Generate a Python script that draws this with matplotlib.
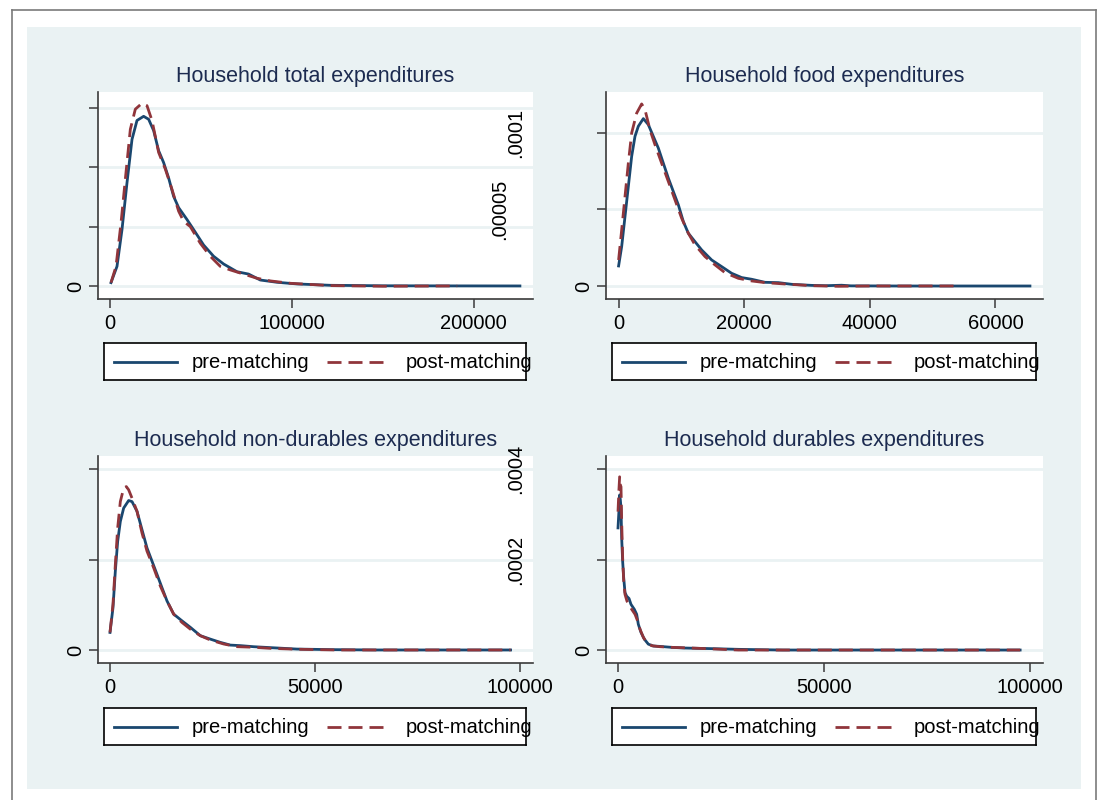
import matplotlib
matplotlib.use("Agg")
import matplotlib.pyplot as plt
from matplotlib.lines import Line2D
from matplotlib.patches import Rectangle
from matplotlib.transforms import blended_transform_factory

plt.rcParams['font.family'] = ['Liberation Sans', 'DejaVu Sans']

# ---------------- data ----------------
titles = ["Household total expenditures", "Household food expenditures",
          "Household non-durables expenditures", "Household durables expenditures"]
series_names = ["pre-matching", "post-matching"]

total_pre_x = [550, 3850, 6600, 9350, 12100, 14850, 18500, 21260, 24000, 26760, 29500, 32260,
               35000, 37760, 42340, 46000, 51500, 57000, 62500, 69840, 76250, 82670, 91830,
               102800, 121100, 150000, 190000, 225500]
total_pre_y = [0.056e-5, 0.33e-5, 0.95e-5, 1.74e-5, 2.47e-5, 2.79e-5, 2.86e-5, 2.81e-5, 2.62e-5,
               2.28e-5, 2.08e-5, 1.82e-5, 1.51e-5, 1.32e-5, 1.12e-5, 0.95e-5, 0.69e-5, 0.50e-5,
               0.37e-5, 0.24e-5, 0.20e-5, 0.10e-5, 0.062e-5, 0.034e-5, 0.011e-5, 0.003e-5,
               0.001e-5, 0.0]
total_post_x = [550, 3300, 6050, 8980, 11180, 13930, 17600, 20350, 23100, 26760, 30430, 34090,
                37760, 40500, 44170, 49670, 55170, 60670, 66170, 73500, 80830, 88170, 99170,
                121000, 150000, 191000]
total_post_y = [0.056e-5, 0.33e-5, 1.06e-5, 1.97e-5, 2.64e-5, 2.98e-5, 3.08e-5, 3.04e-5, 2.79e-5,
                2.25e-5, 1.97e-5, 1.63e-5, 1.26e-5, 1.09e-5, 1.0e-5, 0.72e-5, 0.50e-5, 0.33e-5,
                0.27e-5, 0.20e-5, 0.13e-5, 0.085e-5, 0.045e-5, 0.006e-5, -0.005e-5, 0.0]

food_pre_x = [0, 490, 1020, 1550, 2080, 2610, 3140, 3940, 4730, 5530, 6320, 7120, 7920, 8710,
              9510, 10310, 11100, 12160, 13220, 14820, 16400, 18000, 19600, 21190, 23310, 25440,
              27560, 30750, 33000, 35500, 37000, 45000, 65500]
food_pre_y = [1.31e-5, 2.58e-5, 4.54e-5, 6.5e-5, 8.47e-5, 9.78e-5, 10.44e-5, 10.94e-5, 10.55e-5,
              9.78e-5, 9.02e-5, 8.03e-5, 7.05e-5, 6.18e-5, 5.31e-5, 4.21e-5, 3.45e-5, 2.9e-5,
              2.36e-5, 1.70e-5, 1.27e-5, 0.83e-5, 0.55e-5, 0.44e-5, 0.24e-5, 0.22e-5, 0.11e-5,
              0.04e-5, 0.02e-5, 0.05e-5, 0.01e-5, 0.0, 0.0]
food_post_x = [0, 490, 1020, 1550, 2080, 2880, 3670, 4200, 5000, 5790, 6850, 7920, 8980, 10040,
               11100, 12160, 13760, 15350, 16940, 19070, 21190, 23310, 26500, 30750, 35000,
               40000, 54000]
food_post_y = [1.70e-5, 3.67e-5, 5.85e-5, 8.03e-5, 10.0e-5, 11.3e-5, 11.9e-5, 11.53e-5, 10.2e-5,
               9.24e-5, 8.03e-5, 6.83e-5, 5.63e-5, 4.43e-5, 3.45e-5, 2.69e-5, 1.92e-5, 1.38e-5,
               0.87e-5, 0.50e-5, 0.33e-5, 0.22e-5, 0.13e-5, 0.02e-5, -0.02e-5, 0.0, 0.0]

nondur_pre_x = [0, 730, 1300, 1870, 2520, 3330, 4550, 5370, 6590, 7800, 9020, 10240, 11460,
                12680, 13900, 15530, 17560, 19600, 22030, 24470, 26910, 29350, 31790, 35040,
                39100, 45600, 53700, 65000, 97700]
nondur_pre_y = [0.97e-5, 2.34e-5, 4.36e-5, 6.0e-5, 7.1e-5, 7.84e-5, 8.26e-5, 8.2e-5, 7.66e-5,
                6.65e-5, 5.64e-5, 4.91e-5, 4.18e-5, 3.44e-5, 2.71e-5, 1.98e-5, 1.61e-5, 1.25e-5,
                0.79e-5, 0.60e-5, 0.42e-5, 0.27e-5, 0.24e-5, 0.18e-5, 0.13e-5, 0.05e-5, 0.02e-5,
                0.0, 0.0]
nondur_post_x = [0, 730, 1300, 1870, 2520, 3330, 3980, 4550, 5370, 6590, 7800, 9020, 10650,
                 12280, 13900, 15530, 17560, 19600, 22030, 24470, 27720, 30980, 35040, 39100,
                 45600, 55000, 97700]
nondur_post_y = [0.97e-5, 2.53e-5, 4.73e-5, 6.74e-5, 8.2e-5, 8.94e-5, 9.03e-5, 8.85e-5, 8.39e-5,
                 7.66e-5, 6.47e-5, 5.46e-5, 4.54e-5, 3.53e-5, 2.71e-5, 1.98e-5, 1.52e-5, 1.15e-5,
                 0.79e-5, 0.55e-5, 0.33e-5, 0.18e-5, 0.15e-5, 0.09e-5, 0.04e-5, 0.0, 0.0]

dur_pre_x = [0, 240, 400, 570, 730, 890, 1130, 1380, 1700, 2100, 2670, 3150, 3960, 4530, 4930,
             5580, 6390, 7360, 8580, 10190, 13020, 16260, 19500, 23540, 29200, 40000, 97600]
dur_pre_y = [2.70e-4, 3.10e-4, 3.43e-4, 3.32e-4, 3.14e-4, 2.48e-4, 1.96e-4, 1.60e-4, 1.27e-4,
             1.19e-4, 1.14e-4, 1.01e-4, 0.90e-4, 0.79e-4, 0.57e-4, 0.39e-4, 0.24e-4, 0.13e-4,
             0.088e-4, 0.08e-4, 0.059e-4, 0.044e-4, 0.037e-4, 0.029e-4, 0.015e-4, 0.0, 0.0]
dur_post_x = [0, 240, 400, 570, 730, 890, 1130, 1380, 1700, 2180, 2670, 3320, 4130, 4770, 5340,
              6150, 6960, 8170, 10190, 13020, 17880, 23540, 29200, 40000, 97600]
dur_post_y = [3.06e-4, 3.57e-4, 3.83e-4, 3.65e-4, 3.61e-4, 2.84e-4, 2.04e-4, 1.52e-4, 1.23e-4,
              1.08e-4, 1.01e-4, 0.90e-4, 0.79e-4, 0.64e-4, 0.46e-4, 0.28e-4, 0.17e-4, 0.095e-4,
              0.073e-4, 0.059e-4, 0.044e-4, 0.022e-4, 0.0, 0.0, 0.0]

x_ticks = [[0, 100000, 200000], [0, 20000, 40000, 60000], [0, 50000, 100000], [0, 50000, 100000]]
y_ticks = [[0, 1e-5, 2e-5, 3e-5], [0, 5e-5, 1e-4], [0, 5e-5, 1e-4], [0, 2e-4, 4e-4]]
# labels of the right-hand panels that Stata drew next to the left-hand panels
stray_labels = [[".0001", ".00005"], [".0004", ".0002"]]
stray_values = [[1e-4, 5e-5], [4e-4, 2e-4]]

# ---------------- style ----------------
W, H = 1098, 800
NAVY = "#1a476f"
MAROON = "#90353b"
BG = "#eaf2f3"
GRID = "#eaf2f3"
TITLE_C = "#1c2b50"
SPINE = "#3a3a3a"
FS = 14.5

fig = plt.figure(figsize=(W / 100, H / 100), dpi=100)
fig.patch.set_facecolor("white")

def fx(px):
    return px / W

def fy(py):
    return 1 - py / H

# outer frame and background
fig.add_artist(Rectangle((fx(27), fy(789)), fx(1081) - fx(27), fy(27) - fy(789),
                         transform=fig.transFigure, facecolor=BG, edgecolor="none", zorder=0))
for xs, ys in [([11.5, 11.5], [9.5, 805]), ([11.5, 1096], [9.5, 9.5]), ([1096, 1096], [9.5, 805])]:
    fig.add_artist(Line2D([fx(v) for v in xs], [fy(v) for v in ys], transform=fig.transFigure,
                          color="#7a7a7a", lw=1.2, zorder=1))

# axes boxes in pixels: left, top, right, bottom
boxes = [(98, 92, 533, 299), (606, 92, 1043, 299), (98, 456, 533, 663), (606, 456, 1043, 663)]
xlims = [(-6600, 232700), (-2006, 67580), (-2927, 103170), (-2913, 103150)]
ylims = [(-2.2e-6, 3.27e-5), (-8.5e-6, 1.268e-4), (-7.2e-6, 1.072e-4), (-2.87e-5, 4.29e-4)]
legend_boxes = [(104, 343, 526, 380), (612, 343, 1036, 380), (104, 708, 526, 745), (612, 708, 1036, 745)]

data = [(total_pre_x, total_pre_y, total_post_x, total_post_y),
        (food_pre_x, food_pre_y, food_post_x, food_post_y),
        (nondur_pre_x, nondur_pre_y, nondur_post_x, nondur_post_y),
        (dur_pre_x, dur_pre_y, dur_post_x, dur_post_y)]

LW = 2.0
lw_px = LW * 100 / 72
DASH = (14 / lw_px, 7 / lw_px)

axes = []
for i in range(4):
    l, t, r, b = boxes[i]
    ax = fig.add_axes([fx(l), fy(b), fx(r) - fx(l), fy(t) - fy(b)])
    axes.append(ax)
    ax.set_facecolor("white")
    px, py, qx, qy = data[i]
    ax.plot(px, py, color=NAVY, lw=LW, solid_joinstyle="round", zorder=3)
    ax.plot(qx, qy, color=MAROON, lw=LW, dashes=DASH, dash_capstyle="butt", zorder=4)
    ax.set_xlim(*xlims[i])
    ax.set_ylim(*ylims[i])
    ax.set_xticks(x_ticks[i])
    ax.set_xticklabels([str(v) for v in x_ticks[i]])
    ax.set_yticks(y_ticks[i])
    ax.set_yticklabels(["0"] + [""] * (len(y_ticks[i]) - 1), rotation=90, va="center")
    ax.grid(axis="y", color=GRID, lw=2.0, zorder=0)
    ax.set_axisbelow(True)
    for s in ["top", "right"]:
        ax.spines[s].set_visible(False)
    for s in ["left", "bottom"]:
        ax.spines[s].set_color(SPINE)
        ax.spines[s].set_linewidth(1.2)
    ax.tick_params(axis="both", direction="out", length=6.5, width=1.1, color=SPINE,
                   labelsize=FS, labelcolor="black")
    ax.tick_params(axis="x", pad=4)
    ax.tick_params(axis="y", pad=3)
    ax.set_title(titles[i], color=TITLE_C, fontsize=15.5, pad=7)

# stray tick labels of the right-hand panels
stray_x = [[515.5, 500], [516, 516]]
for row in range(2):
    ax_r = axes[2 * row + 1]
    trans = blended_transform_factory(fig.transFigure, ax_r.transData)
    for lab, val, xp in zip(stray_labels[row], stray_values[row], stray_x[row]):
        fig.text(fx(xp), val, lab, transform=trans, rotation=90, ha="center", va="center",
                 fontsize=FS, color="black", zorder=10)

# legends
for i in range(4):
    l, t, r, b = legend_boxes[i]
    lg = fig.add_axes([fx(l), fy(b), fx(r) - fx(l), fy(t) - fy(b)])
    lg.set_xlim(0, r - l)
    lg.set_ylim(0, 1)
    lg.set_xticks([])
    lg.set_yticks([])
    lg.set_facecolor("white")
    for s in lg.spines.values():
        s.set_color("black")
        s.set_linewidth(1.2)
    lg.plot([10, 73], [0.5, 0.5], color=NAVY, lw=LW)
    lg.text(88, 0.47, series_names[0], fontsize=FS, va="center", ha="left", color="black")
    lg.plot([223, 284], [0.5, 0.5], color=MAROON, lw=LW, dashes=DASH, dash_capstyle="butt")
    lg.text(302, 0.47, series_names[1], fontsize=FS, va="center", ha="left", color="black",
            clip_on=False)

fig.savefig("out.png", dpi=100, facecolor="white")
